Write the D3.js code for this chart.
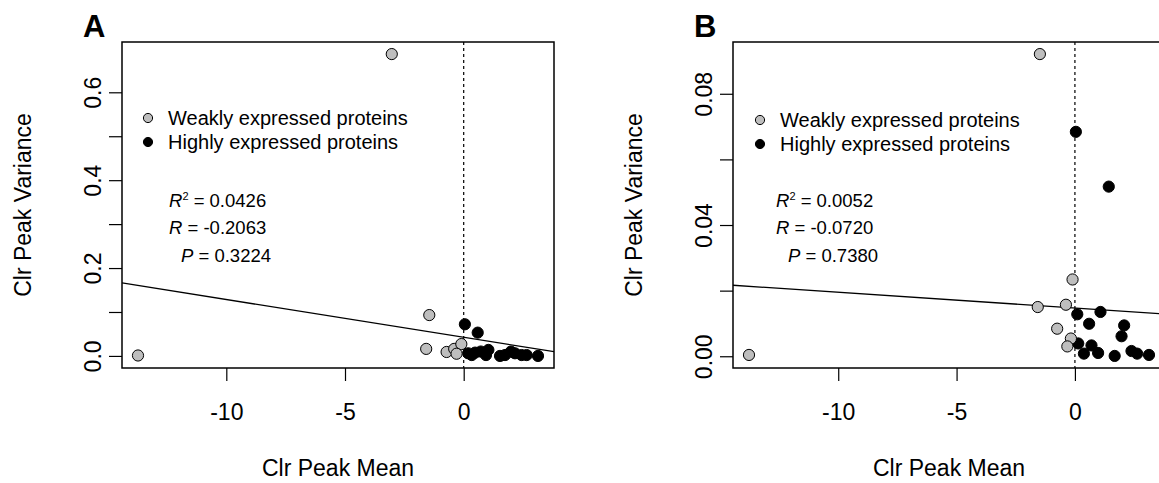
<!DOCTYPE html>
<html>
<head>
<meta charset="utf-8">
<script src="https://cdn.jsdelivr.net/npm/d3@7"></script>
<style>
  body { margin: 0; background: #fff; }
  svg { display: block; font-family: "Liberation Sans", Arial, Helvetica, sans-serif; }
</style>
</head>
<body>
<svg id="chart" width="1159" height="483"></svg>
<script>
// Panel A: clr peak mean vs clr peak variance
var aWeakMean = [-13.72, -3.03, -1.45, -1.58, -0.72, -0.40, -0.10, -0.30];
var aWeakVar  = [0.001, 0.687, 0.093, 0.016, 0.009, 0.016, 0.027, 0.005];
var aHighMean = [0.05, 0.59, 0.19, 0.48, 0.72, 1.04, 0.94, 0.34, 1.74, 1.99, 2.16, 2.44, 2.65, 3.13, 1.53];
var aHighVar  = [0.072, 0.053, 0.006, 0.0075, 0.010, 0.0137, 0.002, 0.002, 0.002, 0.0098, 0.006, 0.002, 0.002, 0.000, 0.000];
var aFit = { intercept: 0.0424, slope: -0.0086 };
var aStats = ['0.0426', '-0.2063', '0.3224'];
var aTicksY = [0, 0.1, 0.2, 0.3, 0.4, 0.5, 0.6];
var aLabelsY = ['0.0', '', '0.2', '', '0.4', '', '0.6'];

// Panel B
var bWeakMean = [-13.77, -1.48, -0.10, -1.57, -0.38, -0.75, -0.17, -0.32];
var bWeakVar  = [0.0004, 0.0921, 0.0234, 0.0150, 0.0157, 0.0084, 0.0054, 0.0030];
var bHighMean = [0.04, 1.43, 0.10, 1.08, 0.60, 2.08, 1.97, 0.14, 0.70, 0.38, 0.98, 1.68, 2.39, 2.63, 3.13];
var bHighVar  = [0.0684, 0.0517, 0.0128, 0.0135, 0.0099, 0.0094, 0.0061, 0.0039, 0.0033, 0.0008, 0.0010, 0.0001, 0.0016, 0.0008, 0.0004];
var bFit = { intercept: 0.0147, slope: -0.00048 };
var bStats = ['0.0052', '-0.0720', '0.7380'];
var bTicksY = [0, 0.02, 0.04, 0.06, 0.08];
var bLabelsY = ['0.00', '', '0.04', '', '0.08'];

var ticksX = [-10, -5, 0];
var legendLabels = ['Weakly expressed proteins', 'Highly expressed proteins'];
var xTitle = 'Clr Peak Mean', yTitle = 'Clr Peak Variance';

var svg = d3.select('#chart');
var W = 432, H = 326;

function zip(xs, ys) {
  return xs.map(function (x, i) { return { x: x, y: ys[i] }; });
}

// R style axis range: data extent padded by 4% each side
function rRange(vals) {
  var e = d3.extent(vals), pad = (e[1] - e[0]) * 0.04;
  return [e[0] - pad, e[1] + pad];
}

function drawPanel(p) {
  var weak = zip(p.weakX, p.weakY), high = zip(p.highX, p.highY);
  var x = d3.scaleLinear().domain(rRange(p.weakX.concat(p.highX))).range([0, W]);
  var y = d3.scaleLinear().domain(rRange(p.weakY.concat(p.highY))).range([H, 0]);

  var g = svg.append('g').attr('transform', 'translate(' + p.left + ',' + p.top + ')');

  g.append('clipPath').attr('id', 'clip' + p.id)
    .append('rect').attr('width', W).attr('height', H);

  // axes
  var ax = g.append('g').attr('transform', 'translate(0,' + H + ')')
    .call(d3.axisBottom(x).tickValues(ticksX).tickSize(13).tickFormat(d3.format('d')));
  ax.select('.domain').remove();
  ax.selectAll('line').attr('stroke', '#000').attr('stroke-width', 1.2);
  ax.selectAll('text').attr('y', 52).attr('dy', 0)
    .attr('fill', '#000').style('font-size', '23px').style('font-family', 'inherit')
    .text(function (d) { return String(d); });

  var ay = g.append('g')
    .call(d3.axisLeft(y).tickValues(p.ticksY).tickSize(13)
      .tickFormat(function (d, i) { return p.labelsY[i]; }));
  ay.select('.domain').remove();
  ay.selectAll('line').attr('stroke', '#000').attr('stroke-width', 1.2);
  ay.selectAll('text').attr('transform', 'rotate(-90)')
    .attr('x', 0).attr('y', -21).attr('dy', 0).attr('text-anchor', 'middle')
    .attr('fill', '#000').style('font-size', '23px').style('font-family', 'inherit');

  // axis titles
  g.append('text').attr('x', W / 2).attr('y', H + 108).attr('text-anchor', 'middle')
    .style('font-size', '23px').text(xTitle);
  g.append('text').attr('transform', 'translate(' + (-91) + ',' + (H / 2) + ') rotate(-90)')
    .attr('text-anchor', 'middle').style('font-size', '23px').text(yTitle);

  // panel letter
  svg.append('text').attr('x', p.letterX).attr('y', 37)
    .style('font-size', '31px').style('font-weight', 'bold').text(p.id);

  var plot = g.append('g').attr('clip-path', 'url(#clip' + p.id + ')');

  // dotted line at zero
  plot.append('line')
    .attr('x1', x(0)).attr('x2', x(0)).attr('y1', 0).attr('y2', H)
    .attr('stroke', '#000').attr('stroke-width', 1.2).attr('stroke-dasharray', '3,3');

  // regression line
  var xd = x.domain();
  plot.append('line')
    .attr('x1', x(xd[0])).attr('y1', y(p.fit.intercept + p.fit.slope * xd[0]))
    .attr('x2', x(xd[1])).attr('y2', y(p.fit.intercept + p.fit.slope * xd[1]))
    .attr('stroke', '#000').attr('stroke-width', 1.3);

  // points
  plot.selectAll('circle.high').data(high).enter().append('circle')
    .attr('class', 'high')
    .attr('cx', function (d) { return x(d.x); })
    .attr('cy', function (d) { return y(d.y); })
    .attr('r', 5.6).attr('fill', '#000').attr('stroke', '#000').attr('stroke-width', 1);
  plot.selectAll('circle.weak').data(weak).enter().append('circle')
    .attr('class', 'weak')
    .attr('cx', function (d) { return x(d.x); })
    .attr('cy', function (d) { return y(d.y); })
    .attr('r', 5.6).attr('fill', '#bebebe').attr('stroke', '#000').attr('stroke-width', 1);

  // box
  g.append('rect').attr('width', W).attr('height', H)
    .attr('fill', 'none').attr('stroke', '#000').attr('stroke-width', 1.5);

  // legend
  var lg = svg.append('g').attr('transform', 'translate(' + p.legX + ',' + p.legY + ')');
  legendLabels.forEach(function (lab, i) {
    lg.append('circle').attr('cx', 0).attr('cy', i * 24).attr('r', 4.6)
      .attr('fill', i === 0 ? '#bebebe' : '#000').attr('stroke', '#000').attr('stroke-width', 1);
    lg.append('text').attr('x', 20).attr('y', i * 24 + 7)
      .style('font-size', '20px').text(lab);
  });

  // statistics
  var st = svg.append('g').style('font-size', '18.5px');
  var t1 = st.append('text').attr('x', p.statX).attr('y', p.statY);
  t1.append('tspan').style('font-style', 'italic').text('R');
  t1.append('tspan').attr('dy', -7).style('font-size', '11px').text('2');
  t1.append('tspan').attr('dy', 7).text(' = ' + p.stats[0]);
  var t2 = st.append('text').attr('x', p.statX).attr('y', p.statY + 27);
  t2.append('tspan').style('font-style', 'italic').text('R');
  t2.append('tspan').text(' = ' + p.stats[1]);
  var t3 = st.append('text').attr('x', p.statX + 12).attr('y', p.statY + 55);
  t3.append('tspan').style('font-style', 'italic').text('P');
  t3.append('tspan').text(' = ' + p.stats[2]);
}

drawPanel({
  id: 'A', left: 122, top: 42, letterX: 83,
  weakX: aWeakMean, weakY: aWeakVar, highX: aHighMean, highY: aHighVar,
  fit: aFit, stats: aStats, ticksY: aTicksY, labelsY: aLabelsY,
  legX: 148, legY: 118, statX: 169, statY: 207
});

drawPanel({
  id: 'B', left: 733, top: 42, letterX: 694,
  weakX: bWeakMean, weakY: bWeakVar, highX: bHighMean, highY: bHighVar,
  fit: bFit, stats: bStats, ticksY: bTicksY, labelsY: bLabelsY,
  legX: 760, legY: 120, statX: 776, statY: 207
});
</script>
</body>
</html>
